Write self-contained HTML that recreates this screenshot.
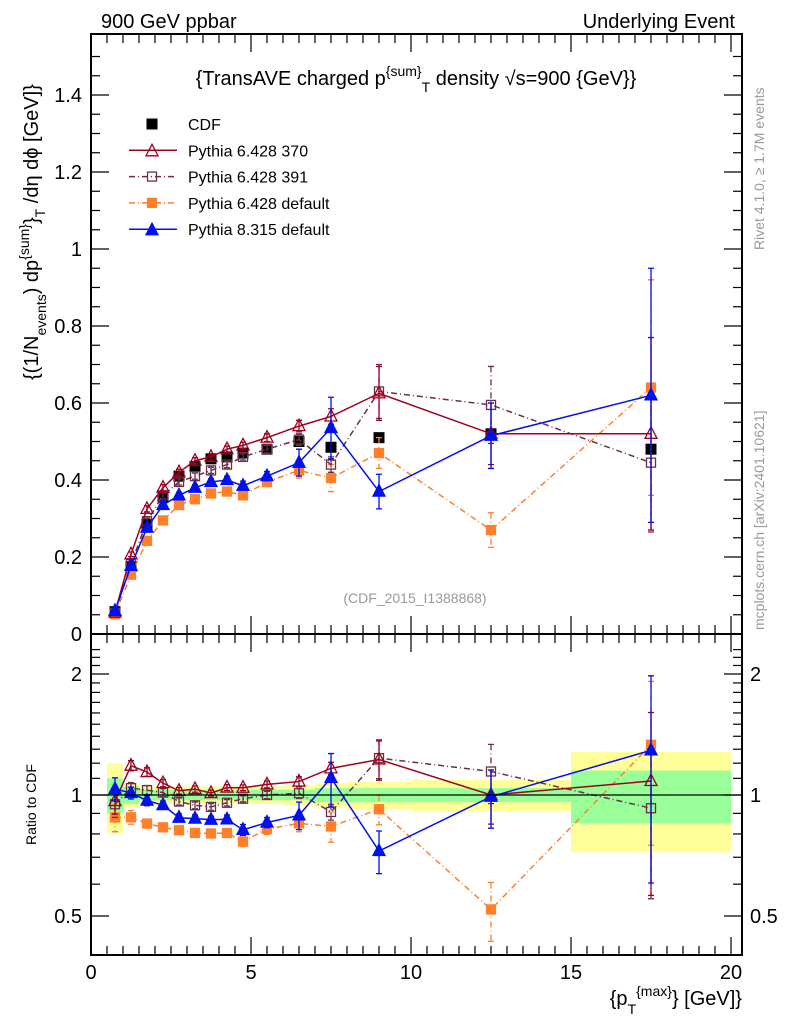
<!DOCTYPE html>
<html><head><meta charset="utf-8"><style>
body{margin:0;background:#fff}
svg{display:block;font-family:"Liberation Sans",sans-serif}
</style></head><body>
<svg id="c" width="786" height="1024" viewBox="0 0 786 1024">
<g id="bands"></g><g id="series"></g><g id="frames"></g>
<text x="101" y="28" font-size="20">900 GeV ppbar</text>
<text x="735" y="28" font-size="20" text-anchor="end">Underlying Event</text>
<text x="416" y="85" font-size="20" text-anchor="middle">{TransAVE charged p<tspan dy="-9" font-size="14">{sum}</tspan><tspan dy="16" font-size="14">T</tspan><tspan dy="-7"> density √s=900 {GeV}}</tspan></text>
<text x="415" y="603" font-size="14" fill="#999" text-anchor="middle">(CDF_2015_I1388868)</text>
<text transform="translate(764,250) rotate(-90)" font-size="14" fill="#999">Rivet 4.1.0, ≥ 1.7M events</text>
<text transform="translate(764,630) rotate(-90)" font-size="14" fill="#999">mcplots.cern.ch [arXiv:2401.10621]</text>
<text transform="translate(38,380) rotate(-90)" font-size="20">{(1/N<tspan dy="8" font-size="14">events</tspan><tspan dy="-8">) dp</tspan><tspan dy="-9" font-size="14">{sum}</tspan><tspan dy="9">}</tspan><tspan dy="7" font-size="14">T</tspan><tspan dy="-7"> /dη  dϕ [GeV]}</tspan></text>
<text transform="translate(36,845) rotate(-90)" font-size="14">Ratio to CDF</text>
<text x="742" y="1005" font-size="20" text-anchor="end">{p<tspan dy="9" font-size="14">T</tspan><tspan dy="-18" font-size="14">{max}</tspan><tspan dy="9">} [GeV]}</tspan></text>
<g id="legend"></g>
</svg>
<script>
const xs=[0.75,1.25,1.75,2.25,2.75,3.25,3.75,4.25,4.75,5.5,6.5,7.5,9,12.5,17.5];
const binLo=[0.5,1,1.5,2,2.5,3,3.5,4,4.5,5,6,7,8,10,15];
const binHi=[1,1.5,2,2.5,3,3.5,4,4.5,5,6,7,8,10,15,20];
const cdf=[0.058,0.175,0.285,0.355,0.41,0.435,0.455,0.46,0.47,0.48,0.50,0.485,0.51,0.52,0.48];
const cdfStat=[0.1,0.05,0.03,0.03,0.03,0.03,0.03,0.03,0.03,0.03,0.03,0.04,0.04,0.04,0.15];
const cdfTot=[0.2,0.07,0.05,0.05,0.05,0.05,0.05,0.05,0.05,0.05,0.06,0.07,0.08,0.09,0.28];
const p370=[0.056,0.207,0.325,0.38,0.42,0.45,0.46,0.48,0.49,0.51,0.54,0.565,0.625,0.52,0.52];
const p370e=[0.004,0.006,0.008,0.008,0.008,0.008,0.008,0.008,0.008,0.01,0.015,0.02,0.07,0.08,0.25];
const p391=[0.055,0.182,0.293,0.36,0.395,0.41,0.425,0.44,0.46,0.48,0.505,0.44,0.63,0.595,0.445];
const p391e=[0.004,0.006,0.008,0.008,0.008,0.008,0.008,0.008,0.008,0.01,0.015,0.02,0.07,0.1,0.18];
const p6d=[0.051,0.154,0.242,0.295,0.335,0.35,0.365,0.37,0.36,0.395,0.425,0.405,0.47,0.27,0.64];
const p6de=[0.004,0.006,0.006,0.006,0.006,0.006,0.006,0.008,0.01,0.012,0.02,0.035,0.04,0.045,0.28];
const p8=[0.06,0.177,0.276,0.335,0.36,0.38,0.395,0.40,0.385,0.41,0.445,0.535,0.37,0.515,0.62];
const p8e=[0.004,0.006,0.008,0.008,0.008,0.008,0.008,0.01,0.012,0.012,0.035,0.08,0.045,0.085,0.33];
const yTicks=[0,0.2,0.4,0.6,0.8,1,1.2,1.4];
const yTickLabels=["0","0.2","0.4","0.6","0.8","1","1.2","1.4"];
const xTicks=[0,5,10,15,20];
const xTickLabels=["0","5","10","15","20"];
const rTicks=[0.5,1,2];
const rTickLabels=["0.5","1","2"];

const NS="http://www.w3.org/2000/svg";
const L=91,R=742,T=34,MB=634,RB=955;
const X=v=>91+v*32;
const Y=v=>634-v*385;
const RY=v=>795-Math.log2(v)*121;
function mk(tag,at,par){const e=document.createElementNS(NS,tag);for(const k in at)e.setAttribute(k,at[k]);(par||document.getElementById('series')).appendChild(e);return e;}

const bands=document.getElementById('bands');
for(let i=0;i<xs.length;i++){
  let e=mk('rect',{x:X(binLo[i]),y:RY(1+cdfTot[i]),width:X(binHi[i])-X(binLo[i]),height:RY(1-cdfTot[i])-RY(1+cdfTot[i]),fill:'#ffff99'},bands);
  
  
}
for(let i=0;i<xs.length;i++){
  let e=mk('rect',{x:X(binLo[i]),y:RY(1+cdfStat[i]),width:X(binHi[i])-X(binLo[i]),height:RY(1-cdfStat[i])-RY(1+cdfStat[i]),fill:'#99ff99'},bands);
  
  
}

function marker(g,type,color,x,y){
  let e;
  if(type==='sq'||type==='osq'){e=mk('rect',{x:x-4.5,y:y-4.5,width:9,height:9,fill:type==='sq'?color:'none',stroke:color,'stroke-width':1.3},g);}
  else if(type==='bsq'){e=mk('rect',{x:x-5.5,y:y-5.5,width:11,height:11,fill:color},g);}
  else {e=mk('path',{d:`M${x},${y-7}L${x+6},${y+4.5}L${x-6},${y+4.5}Z`,fill:type==='tri'?color:'none',stroke:color,'stroke-width':1.3},g);}
  
  
}
function drawSeries(name,vals,errs,color,dash,type,ratio){
  const g=mk('g',{});
  
  
  const yf=ratio?(i=>RY(vals[i]/cdf[i])):(i=>Y(vals[i]));
  const ef=ratio?((i,s)=>RY((vals[i]+s*errs[i])/cdf[i])):((i,s)=>Y(vals[i]+s*errs[i]));
  if(color){
    let d=xs.map((x,i)=>(i?'L':'M')+X(x)+','+yf(i)).join('');
    const pl=mk('path',{d:d,fill:'none',stroke:color,'stroke-width':1.5,'stroke-dasharray':dash||'none'},g);
    
    
  }
  const c=color||'#000';
  for(let i=0;i<xs.length;i++){
    if(errs){
      const eb=mk('path',{d:`M${X(xs[i])},${ef(i,1)}V${ef(i,-1)}M${X(xs[i])-3},${ef(i,1)}h6M${X(xs[i])-3},${ef(i,-1)}h6`,stroke:c,'stroke-width':1.3,'stroke-dasharray':dash||'none',fill:'none'},g);
      
      
    }
    marker(g,type,c,X(xs[i]),yf(i));
  }
}
const S=[["pythia-6428-default",p6d,p6de,'#ff7f2a','6,3,1,3','sq'],
["pythia-6428-391",p391,p391e,'#6b2f4a','6,3,1,3','osq'],
["pythia-6428-370",p370,p370e,'#a00020',null,'otri'],
["pythia-8315-default",p8,p8e,'#0010ee',null,'tri']];
drawSeries('cdf-data',cdf,null,null,null,'bsq',false);
S.forEach(s=>drawSeries(s[0],s[1],s[2],s[3],s[4],s[5],false));
S.forEach(s=>drawSeries(s[0],s[1],s[2],s[3],s[4],s[5],true));

const fr=document.getElementById('frames');
let e=mk('line',{x1:L,x2:R,y1:RY(1),y2:RY(1),stroke:'#000','stroke-width':1.3},fr);

e=mk('rect',{x:L,y:T,width:R-L,height:MB-T,fill:'none',stroke:'#000','stroke-width':2},fr);

e=mk('rect',{x:L,y:MB,width:R-L,height:RB-MB,fill:'none',stroke:'#000','stroke-width':2},fr);

function tick(x1,y1,x2,y2){mk('line',{x1,y1,x2,y2,stroke:'#000','stroke-width':1.2},fr);}
for(let v=0;v<=20.01;v+=0.5){const big=Math.abs(v%5)<0.01,len=big?18:9;const x=X(v);
  if(x>R)continue;
  tick(x,MB,x,MB-len);tick(x,T,x,T+len);tick(x,RB,x,RB-len);tick(x,MB,x,MB+len);}
for(let v=0;v<=1.55;v+=0.05){const big=Math.abs((v*10)%2)<0.01||Math.abs((v*10)%2-2)<0.01;const y=Y(v);if(y<T)continue;
  const len=big?18:9;tick(L,y,L+len,y);tick(R,y,R-len,y);}
[0.4,0.5,0.6,0.7,0.8,0.9,1,1.1,1.2,1.3,1.4,1.5,1.6,1.7,1.8,1.9,2,2.1,2.2,2.3].forEach(v=>{const y=RY(v);if(y<MB||y>RB)return;
  const big=[0.5,1,2].includes(v),len=big?18:9;tick(L,y,L+len,y);tick(R,y,R-len,y);});
yTicks.forEach((v,i)=>{const t=mk('text',{x:82,y:Y(v)+7,'font-size':20,'text-anchor':'end'},fr);t.textContent=yTickLabels[i];
  });
rTicks.forEach((v,i)=>{let t=mk('text',{x:82,y:RY(v)+7,'font-size':20,'text-anchor':'end'},fr);t.textContent=rTickLabels[i];
  
  t=mk('text',{x:750,y:RY(v)+7,'font-size':20},fr);t.textContent=rTickLabels[i];
  });
xTicks.forEach((v,i)=>{const t=mk('text',{x:X(v),y:979,'font-size':20,'text-anchor':'middle'},fr);t.textContent=xTickLabels[i];
  });

const lg=document.getElementById('legend');
const LE=[["CDF",null,null,'bsq','#000'],["Pythia 6.428 370",'#a00020',null,'otri'],["Pythia 6.428 391",'#6b2f4a','6,3,1,3','osq'],["Pythia 6.428 default",'#ff7f2a','6,3,1,3','sq'],["Pythia 8.315 default",'#0010ee',null,'tri']];
LE.forEach((l,i)=>{const y=124+i*26.3;const g=mk('g',{},lg);
  
  if(l[1]){mk('line',{x1:129,x2:177,y1:y,y2:y,stroke:l[1],'stroke-width':1.5,'stroke-dasharray':l[2]||'none'},g);}
  marker(g,l[3],l[1]||'#000',152,y+ (l[3].includes('tri')?1:0));
  const t=mk('text',{x:188,y:y+6,'font-size':16},g);t.textContent=l[0];});
</script>
</body></html>
